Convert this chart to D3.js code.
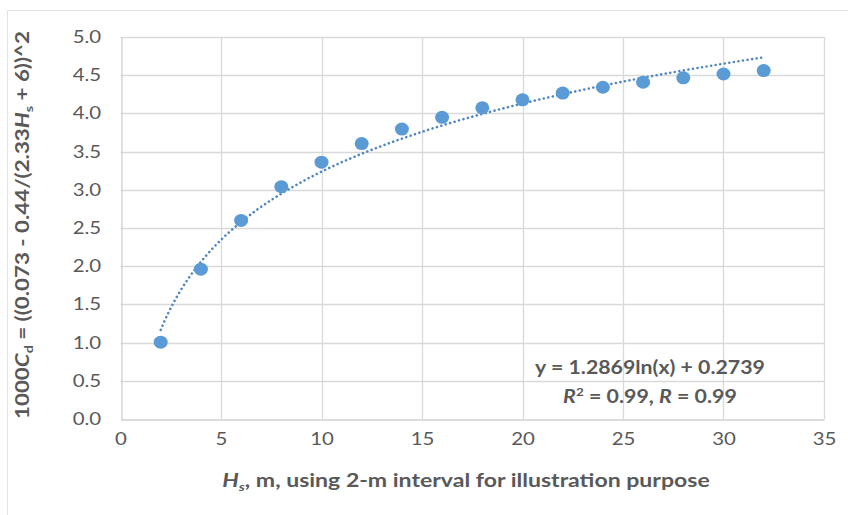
<!DOCTYPE html>
<html>
<head>
<meta charset="utf-8">
<script src="https://cdn.jsdelivr.net/npm/d3@7"></script>
<style>
  html, body { margin: 0; padding: 0; background: #fff; }
  svg { display: block; font-family: Lato, "Open Sans", sans-serif; }
</style>
</head>
<body>
<svg id="chart" width="848" height="515"></svg>
<script>
// Wave height (m) and drag coefficient values
const hsValues = [2, 4, 6, 8, 10, 12, 14, 16, 18, 20, 22, 24, 26, 28, 30, 32];
const cdValues = [1.006, 1.961, 2.599, 3.041, 3.362, 3.605, 3.795, 3.948, 4.073, 4.178, 4.266, 4.342, 4.408, 4.465, 4.516, 4.561];

// Logarithmic trendline y = a ln(x) + b
const trendA = 1.2869;
const trendB = 0.2739;
const trendLabel = "y = 1.2869ln(x) + 0.2739";

const xTicks = [0, 5, 10, 15, 20, 25, 30, 35];
const yTicks = [0, 0.5, 1, 1.5, 2, 2.5, 3, 3.5, 4, 4.5, 5];

const svg = d3.select("#chart");
const plot = { left: 120.5, right: 824, top: 37, bottom: 419 };

const x = d3.scaleLinear().domain([0, 35]).range([plot.left, plot.right]);
const y = d3.scaleLinear().domain([0, 5]).range([plot.bottom, plot.top]);

const textColor = "#595959";
const gridColor = "#d9d9d9";
const pointColor = "#5b9bd5";
const trendColor = "#4f86c0";
const wide = 1.2; // horizontal stretch of the lettering

// stretch a text element horizontally so it spans the given width, keeping its centre
function fitWidth(sel, cx, targetW) {
  const w = sel.node().getBBox().width;
  const sx = targetW / w;
  sel.attr("transform", `translate(${cx},0) scale(${sx},1) translate(${-cx},0)`);
}

// outer chart frame
svg.append("rect")
  .attr("x", 7.5).attr("y", 10.5)
  .attr("width", 860).attr("height", 520)
  .attr("fill", "#fff").attr("stroke", "#e3e3e3").attr("stroke-width", 1);

// gridlines
const g = svg.append("g");
g.selectAll("line.hgrid").data(yTicks.filter(d => d > 0)).join("line")
  .attr("class", "hgrid")
  .attr("x1", plot.left).attr("x2", plot.right)
  .attr("y1", d => Math.round(y(d)) + 0.5).attr("y2", d => Math.round(y(d)) + 0.5)
  .attr("stroke", gridColor).attr("stroke-width", 1.3);
g.selectAll("line.vgrid").data(xTicks.filter(d => d > 0)).join("line")
  .attr("class", "vgrid")
  .attr("x1", d => Math.round(x(d)) + 0.5).attr("x2", d => Math.round(x(d)) + 0.5)
  .attr("y1", plot.top).attr("y2", plot.bottom)
  .attr("stroke", gridColor).attr("stroke-width", 1.3);

// axes via d3 axis generators
const xAxis = svg.append("g")
  .attr("transform", `translate(0,${Math.round(plot.bottom) + 0.5})`)
  .call(d3.axisBottom(x).tickValues(xTicks).tickSize(0).tickPadding(13).tickFormat(d3.format("d")));
xAxis.select(".domain").attr("stroke", "#cfcfcf").attr("stroke-width", 1.3);
xAxis.selectAll("text").attr("fill", textColor).attr("font-size", 17)
  .attr("font-family", "Lato, 'Open Sans', sans-serif")
  .attr("transform", `scale(${wide},1)`);

const yAxis = svg.append("g")
  .attr("transform", `translate(${Math.round(plot.left) + 0.5},0)`)
  .call(d3.axisLeft(y).tickValues(yTicks).tickSize(0).tickPadding(17).tickFormat(d3.format(".1f")));
yAxis.select(".domain").attr("stroke", "#cfcfcf").attr("stroke-width", 1.3);
yAxis.selectAll("text").attr("fill", textColor).attr("font-size", 17)
  .attr("font-family", "Lato, 'Open Sans', sans-serif")
  .attr("transform", `scale(${wide},1)`);

// trendline from the fitted equation
const trendX = d3.range(hsValues[0], hsValues[hsValues.length - 1] + 0.001, 0.1);
const line = d3.line().x(d => x(d)).y(d => y(trendA * Math.log(d) + trendB));
svg.append("path")
  .datum(trendX)
  .attr("d", line)
  .attr("fill", "none")
  .attr("stroke", trendColor)
  .attr("stroke-width", 2.6)
  .attr("stroke-linecap", "round")
  .attr("stroke-dasharray", "0.01 4.6");

// data points
svg.append("g").selectAll("ellipse").data(hsValues).join("ellipse")
  .attr("cx", d => x(d))
  .attr("cy", (d, i) => y(cdValues[i]))
  .attr("rx", 7).attr("ry", 6.5)
  .attr("fill", pointColor);

// equation labels
const eq = svg.append("text")
  .attr("x", 650).attr("y", 374)
  .attr("text-anchor", "middle")
  .attr("font-size", 19).attr("font-weight", "bold").attr("fill", textColor)
  .text(trendLabel);
fitWidth(eq, 650, 230);

const r2 = svg.append("text")
  .attr("x", 650).attr("y", 403)
  .attr("text-anchor", "middle")
  .attr("font-size", 19).attr("font-weight", "bold").attr("fill", textColor);
r2.append("tspan").attr("font-style", "italic").text("R");
r2.append("tspan").attr("font-size", 12).attr("dy", -7).text("2");
r2.append("tspan").attr("dy", 7).text(" = 0.99, ");
r2.append("tspan").attr("font-style", "italic").text("R");
r2.append("tspan").text(" = 0.99");
fitWidth(r2, 650, 174);

// x axis title
const xt = svg.append("text")
  .attr("x", 466).attr("y", 487)
  .attr("text-anchor", "middle")
  .attr("font-size", 18.5).attr("font-weight", "bold").attr("fill", textColor);
xt.append("tspan").attr("font-style", "italic").text("H");
xt.append("tspan").attr("font-style", "italic").attr("font-size", 12).attr("dy", 4).text("s");
xt.append("tspan").attr("dy", -4).text(", m, using 2-m interval for illustration purpose");
fitWidth(xt, 466, 488);

// y axis title
const ytg = svg.append("g").attr("transform", "translate(29,225) rotate(-90)");
const yt = ytg.append("text")
  .attr("x", 0).attr("y", 0)
  .attr("text-anchor", "middle")
  .attr("font-size", 18.5).attr("font-weight", "bold").attr("fill", textColor);
yt.append("tspan").text("1000");
yt.append("tspan").attr("font-style", "italic").text("C");
yt.append("tspan").attr("font-size", 12).attr("dy", 4).text("d");
yt.append("tspan").attr("dy", -4).text(" = ((0.073 - 0.44/(2.33");
yt.append("tspan").attr("font-style", "italic").text("H");
yt.append("tspan").attr("font-size", 12).attr("dy", 4).text("s");
yt.append("tspan").attr("dy", -4).text(" + 6))^2");
fitWidth(yt, 0, 388);
</script>
</body>
</html>
